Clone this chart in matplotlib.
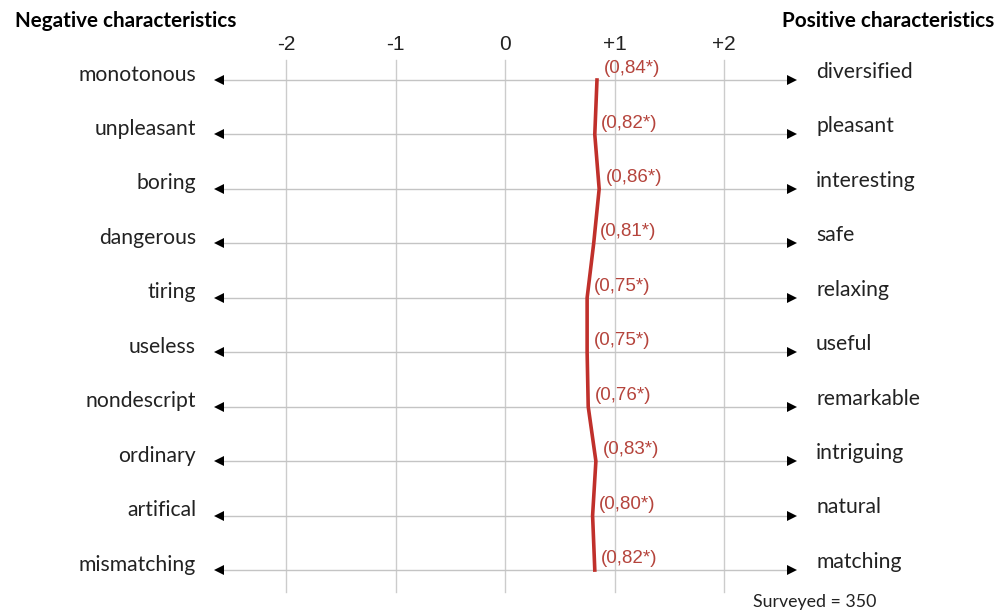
import numpy as np
import matplotlib.pyplot as plt

##-----     DATA     -----
neg_labels = ['monotonous', 'unpleasant', 'boring', 'dangerous', 'tiring',
              'useless', 'nondescript', 'ordinary', 'artifical', 'mismatching']
pos_labels = ['diversified', 'pleasant', 'interesting', 'safe', 'relaxing',
              'useful', 'remarkable', 'intriguing', 'natural', 'matching']
scores = [0.84, 0.82, 0.86, 0.81, 0.75, 0.75, 0.76, 0.83, 0.80, 0.82]
score_texts = ['(0,84*)', '(0,82*)', '(0,86*)', '(0,81*)', '(0,75*)',
               '(0,75*)', '(0,76*)', '(0,83*)', '(0,80*)', '(0,82*)']
ticks = [-2, -1, 0, 1, 2]
tick_texts = ['-2', '-1', '0', '+1', '+2']

##-----     FIGURE     -----
W, H = 1007, 613
fig = plt.figure(figsize=(W/100, H/100), dpi=100)
ax = fig.add_axes([0, 0, 1, 1])
ax.axis('off')

# pixel mapping: x0 = 505 px, 109.5 px per unit ; row0 = 80 px, 54.45 px per row
px_u, x0 = 109.5, 505.0
px_r, y0 = 54.45, 80.0
ax.set_xlim((0 - x0)/px_u, (W - x0)/px_u)
ax.set_ylim((H - y0)/px_r, (0 - y0)/px_r)

rows = np.arange(len(neg_labels))
lab_font = 'Lato'
num_font = 'Liberation Sans'

# vertical grid
for t, s in zip(ticks, tick_texts):
    ax.plot([t, t], [(60 - y0)/px_r, (592 - y0)/px_r], color='#cccccc', lw=1.0, zorder=1)
    ax.text(t, (45 - y0)/px_r, s, ha='center', va='center', fontsize=15,
            family=num_font, color='#222222')

# horizontal arrows
xl, xr = (215 - x0)/px_u, (797 - x0)/px_u
for r in rows:
    ax.plot([xl + 0.05, xr - 0.05], [r, r], color='#c4c4c4', lw=1.0, zorder=1)
ax.plot(np.full(len(rows), xl + 0.04), rows, '<', color='black', ms=6.5, zorder=3,
        markeredgewidth=0)
ax.plot(np.full(len(rows), xr - 0.05), rows, '>', color='black', ms=7.5, zorder=3,
        markeredgewidth=0)

# side labels
for r, nl, pl in zip(rows, neg_labels, pos_labels):
    ax.text((196 - x0)/px_u, r - 0.1, nl, ha='right', va='center', fontsize=15.2,
            family=lab_font, color='#222222')
    ax.text((816 - x0)/px_u, r - 0.15, pl, ha='left', va='center', fontsize=15.2,
            family=lab_font, color='#222222')

# red profile line
ax.plot(scores, rows, color='#c0302b', lw=2.6, zorder=4)
for r, v, s in zip(rows, scores, score_texts):
    ax.text(v + 0.06, r - 0.21, s, ha='left', va='center', fontsize=13.5,
            family=num_font, color='#b5443c', zorder=5)

# headers
ax.text((15 - x0)/px_u, (21 - y0)/px_r, 'Negative characteristics', ha='left',
        va='center', fontsize=14.9, family=lab_font, fontweight='bold', color='black')
ax.text((994 - x0)/px_u, (21 - y0)/px_r, 'Positive characteristics', ha='right',
        va='center', fontsize=14.9, family=lab_font, fontweight='bold', color='black')
ax.text((753 - x0)/px_u, (602 - y0)/px_r, 'Surveyed = 350', ha='left',
        va='center', fontsize=12.8, family=lab_font, color='#222222')

fig.savefig('out.png', dpi=100)
